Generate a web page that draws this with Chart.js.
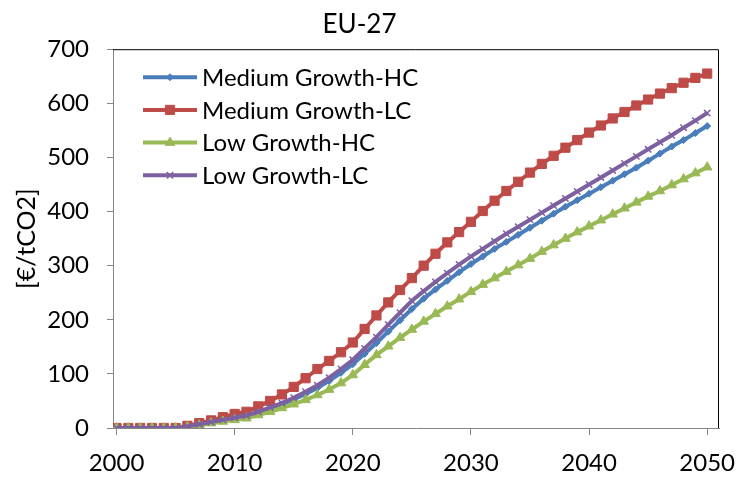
<!DOCTYPE html>
<html lang="en">
<head>
<meta charset="UTF-8">
<title>EU-27</title>
<script src="https://cdn.jsdelivr.net/npm/chart.js@4.4.0/dist/chart.umd.min.js"></script>
<style>
  body { margin: 0; background: #fff; }
  #wrap { width: 742px; height: 481px; }
</style>
</head>
<body>
<div id="wrap"><canvas id="mychart"></canvas></div>
<script>
const years = [2000, 2001, 2002, 2003, 2004, 2005, 2006, 2007, 2008, 2009,
  2010, 2011, 2012, 2013, 2014, 2015, 2016, 2017, 2018, 2019,
  2020, 2021, 2022, 2023, 2024, 2025, 2026, 2027, 2028, 2029,
  2030, 2031, 2032, 2033, 2034, 2035, 2036, 2037, 2038, 2039,
  2040, 2041, 2042, 2043, 2044, 2045, 2046, 2047, 2048, 2049, 2050];

const mediumHC = [0, 0, 0, 0, 0, 0, 3, 7, 11, 15,
  19, 22, 29, 36, 44, 53, 63, 74, 87, 102,
  118, 137, 157, 178, 199, 220, 239, 256, 272, 288,
  303, 317, 331, 344, 357, 370, 383, 396, 409, 421,
  433, 445, 457, 469, 481, 494, 507, 520, 532, 545, 558];

const mediumLC = [0, 0, 0, 0, 0, 0, 4, 9, 14, 20,
  26, 30, 40, 50, 62, 76, 92, 109, 124, 140,
  158, 183, 208, 232, 255, 277, 300, 322, 343, 362,
  381, 401, 420, 438, 455, 472, 488, 503, 518, 532,
  546, 559, 572, 584, 596, 607, 618, 628, 638, 647, 655];

const lowHC = [0, 0, 0, 0, 0, 0, 2, 5, 9, 12,
  15, 18, 24, 30, 37, 44, 52, 61, 71, 83,
  98, 117, 135, 151, 167, 182, 197, 211, 225, 238,
  252, 265, 277, 289, 301, 313, 326, 338, 350, 362,
  373, 384, 395, 406, 417, 428, 438, 449, 460, 471, 482];

const lowLC = [0, 0, 0, 0, 0, 0, 3, 7, 11, 15,
  19, 23, 30, 38, 46, 56, 67, 79, 93, 109,
  126, 147, 168, 191, 213, 235, 253, 270, 286, 302,
  317, 331, 345, 359, 372, 385, 398, 411, 424, 437,
  450, 463, 476, 489, 502, 515, 528, 541, 555, 568, 582];

const seriesNames = ['Medium Growth-HC', 'Medium Growth-LC', 'Low Growth-HC', 'Low Growth-LC'];
const yTicks = [0, 100, 200, 300, 400, 500, 600, 700];
const xTicks = [2000, 2010, 2020, 2030, 2040, 2050];

const FONT = 'Lato, "Liberation Sans", sans-serif';

function pts(vals) {
  return years.map((y, i) => ({ x: y, y: vals[i] }));
}

// top/right frame + legend inside the plot (Excel style)
const frameLegend = {
  id: 'frameLegend',
  afterDraw(chart) {
    const ctx = chart.ctx;
    const a = chart.chartArea;
    ctx.save();
    ctx.strokeStyle = '#000';
    ctx.lineWidth = 1;
    ctx.beginPath();
    ctx.moveTo(a.left, a.top + 0.5);
    ctx.lineTo(a.right - 0.5, a.top + 0.5);
    ctx.lineTo(a.right - 0.5, a.bottom);
    ctx.stroke();

    const x0 = a.left + 30, x1 = a.left + 84;
    ctx.font = '24px ' + FONT;
    ctx.textBaseline = 'middle';
    ctx.textAlign = 'left';
    [0, 1, 2, 3].forEach((i, row) => {
      const ds = chart.data.datasets[i];
      const y = a.top + 28 + row * 32.7;
      ctx.strokeStyle = ds.borderColor;
      ctx.lineWidth = ds.borderWidth;
      ctx.beginPath();
      ctx.moveTo(x0, y);
      ctx.lineTo(x1, y);
      ctx.stroke();
      ctx.fillStyle = ds.pointBackgroundColor;
      ctx.strokeStyle = ds.pointBorderColor;
      ctx.lineWidth = ds.pointBorderWidth;
      Chart.helpers.drawPoint(ctx, {
        pointStyle: ds.pointStyle, radius: ds.pointRadius, rotation: 0,
        borderWidth: ds.pointBorderWidth
      }, (x0 + x1) / 2, y);
      ctx.fillStyle = '#000';
      ctx.fillText(ds.label, x1 + 5, y + 1);
    });
    ctx.restore();
  }
};

const ctx = document.getElementById('mychart');
const mychart = new Chart(ctx, {
  type: 'line',
  data: {
    datasets: [{
      label: seriesNames[0],
      data: pts(mediumHC),
      borderColor: '#4a7ebb',
      borderWidth: 4,
      pointStyle: 'rectRot',
      pointRadius: 3.5,
      pointBackgroundColor: '#4a7ebb',
      pointBorderColor: '#4a7ebb',
      pointBorderWidth: 1,
      order: 4
    }, {
      label: seriesNames[1],
      data: pts(mediumLC),
      borderColor: '#be4b48',
      borderWidth: 4,
      pointStyle: 'rect',
      pointRadius: 6.5,
      pointBackgroundColor: '#be4b48',
      pointBorderColor: '#be4b48',
      pointBorderWidth: 1,
      order: 3
    }, {
      label: seriesNames[2],
      data: pts(lowHC),
      borderColor: '#98b954',
      borderWidth: 4,
      pointStyle: 'triangle',
      pointRadius: 5.5,
      pointBackgroundColor: '#98b954',
      pointBorderColor: '#98b954',
      pointBorderWidth: 1,
      order: 2
    }, {
      label: seriesNames[3],
      data: pts(lowLC),
      borderColor: '#7d60a0',
      borderWidth: 4,
      pointStyle: 'crossRot',
      pointRadius: 4.5,
      pointBackgroundColor: '#7d60a0',
      pointBorderColor: '#7d60a0',
      pointBorderWidth: 1.5,
      order: 1
    }]
  },
  options: {
    responsive: true,
    maintainAspectRatio: false,
    animation: false,
    layout: { padding: { left: 0, right: 23, top: 0, bottom: 0 } },
    plugins: {
      legend: { display: false },
      tooltip: { enabled: false },
      title: {
        display: true,
        text: 'EU-27',
        color: '#000',
        font: { family: FONT, size: 26, weight: 'normal' },
        padding: { top: 9, bottom: 9 }
      }
    },
    scales: {
      x: {
        type: 'linear',
        min: 1999.7,
        max: 2051,
        afterBuildTicks: (scale) => {
          scale.ticks = xTicks.map(v => ({ value: v }));
        },
        afterFit: (scale) => {
          scale.height = 53;
          scale.paddingLeft = 0;
          scale.paddingRight = 0;
        },
        grid: { display: true, drawOnChartArea: false, drawTicks: true, tickLength: 7, color: '#868686' },
        border: { color: '#868686', width: 1 },
        ticks: {
          color: '#000',
          font: { family: FONT, size: 24 },
          padding: 14,
          maxRotation: 0,
          callback: (v) => String(v)
        }
      },
      y: {
        min: 0,
        max: 700,
        afterBuildTicks: (scale) => {
          scale.ticks = yTicks.map(v => ({ value: v }));
        },
        afterFit: (scale) => { scale.width = 113; },
        grid: { display: true, drawOnChartArea: false, drawTicks: true, tickLength: 6, color: '#868686' },
        border: { color: '#868686', width: 1 },
        ticks: {
          color: '#000',
          font: { family: FONT, size: 24 },
          padding: 18
        },
        title: {
          display: true,
          text: '[€/tCO2]',
          color: '#000',
          font: { family: FONT, size: 25 },
          padding: { top: 12, bottom: 0 }
        }
      }
    }
  },
  plugins: [frameLegend]
});
</script>
</body>
</html>
